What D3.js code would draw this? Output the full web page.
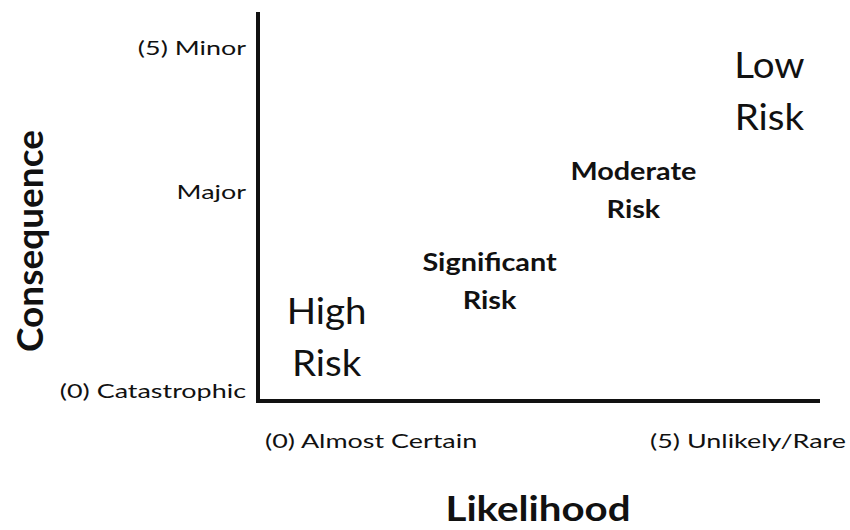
<!DOCTYPE html>
<html>
<head>
<meta charset="utf-8">
<script src="https://cdn.jsdelivr.net/npm/d3@7"></script>
<style>
  body { margin: 0; background: #fff; }
  text { font-family: Lato, "Open Sans", sans-serif; fill: #111; }
</style>
</head>
<body>
<script>

// tick labels on each axis, values in 0..5 units
var yTickValues = [0.13, 2.69, 4.54];
var yTickLabels = ["(0) Catastrophic", "Major", "(5) Minor"];

var xTickValues = [0, 5];
var xTickLabels = ["(0) Almost Certain", "(5) Unlikely/Rare"];

// risk zones, label lines and position in the same units
var riskNames = [["High", "Risk"], ["Significant", "Risk"], ["Moderate", "Risk"], ["Low", "Risk"]];
var riskX = [0.61, 2.06, 3.34, 4.55];
var riskY = [0.82, 1.54, 2.70, 3.98];
var riskBig = [true, false, false, true];

var width = 850, height = 530;
var margin = {top: 12, right: 30, bottom: 129, left: 258};

// the picture is a bit wider than the font, so stretch text sideways
var tickSize = 19.5, tickStretch = 1.38;

var svg = d3.select("body").append("svg")
    .attr("width", width)
    .attr("height", height);

var xScale = d3.scaleLinear()
    .domain([0, 5])
    .range([margin.left, width - margin.right]);

var yScale = d3.scaleLinear()
    .domain([0, 5])
    .range([height - margin.bottom, margin.top]);

// axis lines
svg.append("path")
    .attr("d", "M" + xScale(0) + "," + yScale(5) + "V" + yScale(0) + "H" + xScale(5))
    .attr("fill", "none")
    .attr("stroke", "#111")
    .attr("stroke-width", 4);

// y tick labels
svg.selectAll(".ylab")
    .data(yTickValues)
  .enter().append("text")
    .attr("class", "ylab")
    .attr("transform", function(d) {
      return "translate(" + (xScale(0) - 12) + "," + yScale(d) + ") scale(" + tickStretch + ",1)";
    })
    .attr("dy", "0.35em")
    .attr("text-anchor", "end")
    .style("font-size", tickSize + "px")
    .text(function(d, i) { return yTickLabels[i]; });

// x tick labels
svg.selectAll(".xlab")
    .data(xTickValues)
  .enter().append("text")
    .attr("class", "xlab")
    .attr("transform", function(d, i) {
      var x = xScale(d) + (i == 0 ? 7 : 26);
      return "translate(" + x + "," + (yScale(0) + 40) + ") scale(" + tickStretch + ",1)";
    })
    .attr("dy", "0.35em")
    .attr("text-anchor", function(d, i) { return i == 0 ? "start" : "end"; })
    .style("font-size", tickSize + "px")
    .text(function(d, i) { return xTickLabels[i]; });

// risk labels
riskNames.forEach(function(lines, i) {
  var big = riskBig[i];
  var gap = big ? 52 : 38;
  var t = svg.append("text")
      .attr("text-anchor", "middle")
      .attr("transform", "translate(" + xScale(riskX[i]) + "," + yScale(riskY[i]) + ") scale(" + (big ? 1.07 : 1.2) + ",1)")
      .style("font-size", big ? "36px" : "24px")
      .style("font-weight", big ? "normal" : "bold");
  lines.forEach(function(s, j) {
    t.append("tspan")
        .attr("x", 0)
        .attr("y", (j - (lines.length - 1) / 2) * gap)
        .attr("dy", "0.35em")
        .text(s);
  });
});

// axis titles
svg.append("text")
    .attr("transform", "translate(" + 30 + "," + 241 + ") rotate(-90)")
    .attr("text-anchor", "middle")
    .attr("dy", "0.35em")
    .style("font-size", "37px")
    .style("font-weight", "bold")
    .text("Consequence");

svg.append("text")
    .attr("transform", "translate(" + 538 + "," + 509 + ") scale(1.15,1)")
    .attr("dy", "0.35em")
    .attr("text-anchor", "middle")
    .style("font-size", "35px")
    .style("font-weight", "bold")
    .text("Likelihood");

</script>
</body>
</html>
